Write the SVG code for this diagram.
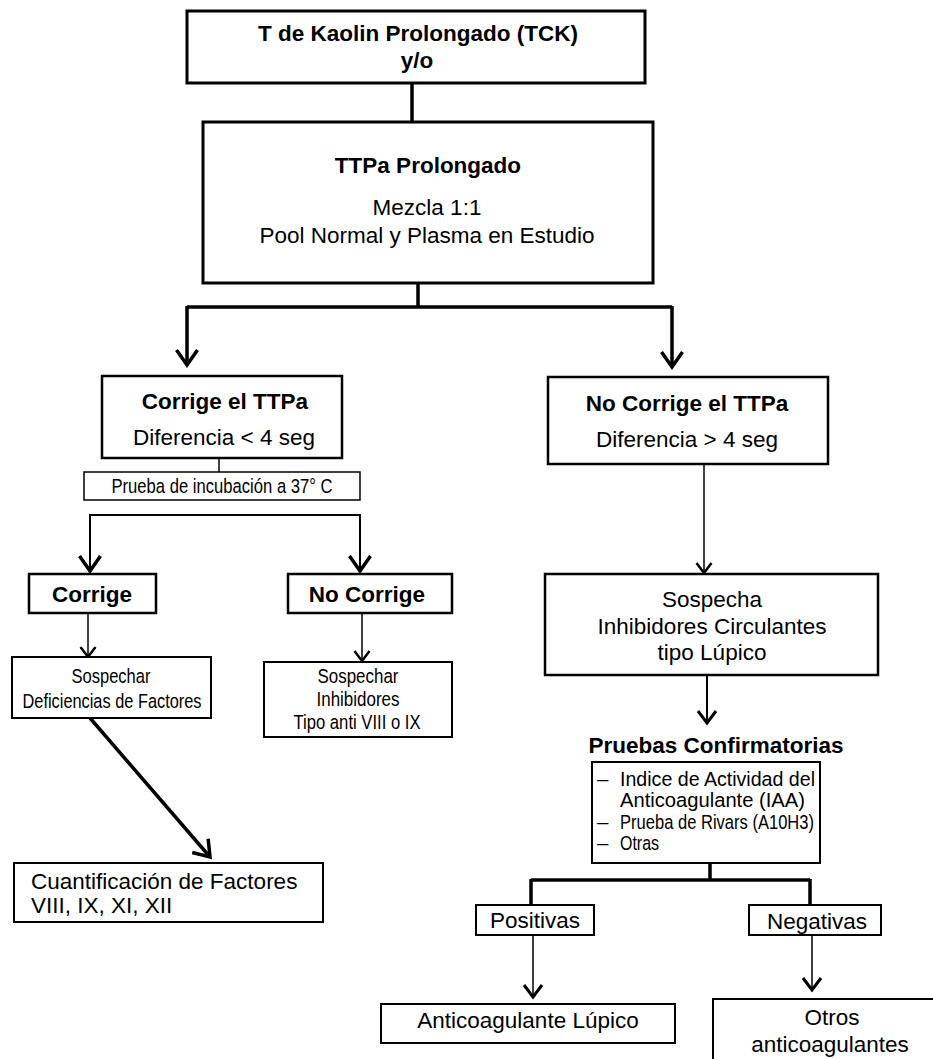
<svg xmlns="http://www.w3.org/2000/svg" width="933" height="1059" viewBox="0 0 933 1059">
<style>
  .box { fill: #fff; stroke: #000; }
  .t { font-family: "Liberation Sans", Arial, Helvetica, sans-serif; font-size: 22.5px; fill: #000; text-anchor: middle; }
  .b { font-weight: bold; }
  .c { font-size: 20.5px; }
  .l { font-size: 20.5px; text-anchor: start; }
  .s { text-anchor: start; }
  .ln { fill: none; stroke: #000; }
</style>
<defs>
  <marker id="aBig" markerUnits="userSpaceOnUse" viewBox="-3 -3 21 27" markerWidth="21" markerHeight="27" refX="15" refY="10.5" orient="auto" overflow="visible">
    <path d="M0,0 L15,10.5 L0,21" fill="none" stroke="#000" stroke-width="3.5"/>
  </marker>
  <marker id="aMid" markerUnits="userSpaceOnUse" viewBox="-3 -3 19 24" markerWidth="19" markerHeight="24" refX="12" refY="9" orient="auto" overflow="visible">
    <path d="M0,0 L12,9 L0,18" fill="none" stroke="#000" stroke-width="3"/>
  </marker>
  <marker id="aSmall" markerUnits="userSpaceOnUse" viewBox="-3 -3 16 21" markerWidth="16" markerHeight="21" refX="10" refY="7.5" orient="auto" overflow="visible">
    <path d="M0,0 L10,7.5 L0,15" fill="none" stroke="#000" stroke-width="2.5"/>
  </marker>
</defs>
<rect width="933" height="1059" fill="#fff"/>

<g id="connectors">
  <line class="ln" x1="412" y1="83" x2="412" y2="122" stroke-width="3.5"/>
  <polyline class="ln" points="418,283 418,307" stroke-width="3.5"/>
  <line class="ln" x1="187" y1="307" x2="672" y2="307" stroke-width="3.5"/>
  <line class="ln" x1="187" y1="306" x2="187" y2="365" stroke-width="3.5" marker-end="url(#aBig)"/>
  <line class="ln" x1="672" y1="306" x2="672" y2="367" stroke-width="3.5" marker-end="url(#aBig)"/>
  <line class="ln" x1="219" y1="458" x2="219" y2="472" stroke-width="1.5"/>
  <line class="ln" x1="90" y1="515" x2="360" y2="515" stroke-width="2"/>
  <line class="ln" x1="90" y1="514" x2="90" y2="571" stroke-width="2" marker-end="url(#aBig)"/>
  <line class="ln" x1="360" y1="514" x2="360" y2="571" stroke-width="2" marker-end="url(#aBig)"/>
  <line class="ln" x1="88" y1="613" x2="88" y2="657" stroke-width="1.5" marker-end="url(#aSmall)"/>
  <line class="ln" x1="362" y1="613" x2="362" y2="661" stroke-width="1.5" marker-end="url(#aSmall)"/>
  <line class="ln" x1="90" y1="718" x2="210" y2="857" stroke-width="3.5" marker-end="url(#aBig)"/>
  <line class="ln" x1="704" y1="464" x2="704" y2="573" stroke-width="1.5" marker-end="url(#aSmall)"/>
  <line class="ln" x1="707" y1="675" x2="707" y2="723" stroke-width="2" marker-end="url(#aMid)"/>
  <line class="ln" x1="710" y1="863" x2="710" y2="880" stroke-width="3.5"/>
  <line class="ln" x1="531" y1="880" x2="810" y2="880" stroke-width="3.5"/>
  <line class="ln" x1="531" y1="879" x2="531" y2="905" stroke-width="3.5"/>
  <line class="ln" x1="810" y1="879" x2="810" y2="905" stroke-width="3.5"/>
  <line class="ln" x1="533" y1="935" x2="533" y2="997" stroke-width="1.5" marker-end="url(#aMid)"/>
  <line class="ln" x1="812" y1="935" x2="812" y2="990" stroke-width="1.5" marker-end="url(#aMid)"/>
</g>

<g id="n-tck">
  <rect class="box" x="187" y="11" width="458" height="72" stroke-width="3"/>
  <text class="t b" x="418" y="41">T de Kaolin Prolongado (TCK)</text>
  <text class="t b" x="417" y="68">y/o</text>
</g>

<g id="n-ttpa">
  <rect class="box" x="203" y="122" width="450" height="161" stroke-width="3"/>
  <text class="t b" x="428" y="173">TTPa Prolongado</text>
  <text class="t" x="427" y="215">Mezcla 1:1</text>
  <text class="t" x="427" y="243">Pool Normal y Plasma en Estudio</text>
</g>

<g id="n-corrige-ttpa">
  <rect class="box" x="102" y="376" width="240" height="82" stroke-width="2.5"/>
  <text class="t b" x="225" y="409">Corrige el TTPa</text>
  <text class="t" x="224" y="445">Diferencia &lt; 4 seg</text>
</g>

<g id="n-nocorrige-ttpa">
  <rect class="box" x="548" y="377" width="280" height="87" stroke-width="2.5"/>
  <text class="t b" x="687" y="411">No Corrige el TTPa</text>
  <text class="t" x="687" y="447">Diferencia &gt; 4 seg</text>
</g>

<g id="n-incubacion">
  <rect class="box" x="84" y="472" width="276" height="28" stroke-width="1.5"/>
  <text class="t c" x="222" y="493" textLength="221" lengthAdjust="spacingAndGlyphs">Prueba de incubación a 37° C</text>
</g>

<g id="n-corrige">
  <rect class="box" x="29" y="574" width="127" height="39" stroke-width="2.5"/>
  <text class="t b" x="92" y="602">Corrige</text>
</g>

<g id="n-nocorrige">
  <rect class="box" x="288" y="574" width="164" height="39" stroke-width="2.5"/>
  <text class="t b" x="367" y="602">No Corrige</text>
</g>

<g id="n-deficiencias">
  <rect class="box" x="12" y="657" width="199" height="61" stroke-width="2"/>
  <text class="t c" x="111" y="683" textLength="79" lengthAdjust="spacingAndGlyphs">Sospechar</text>
  <text class="t c" x="112" y="708" textLength="179" lengthAdjust="spacingAndGlyphs">Deficiencias de Factores</text>
</g>

<g id="n-inhibidores">
  <rect class="box" x="264" y="662" width="188" height="75" stroke-width="2"/>
  <text class="t c" x="358" y="683" textLength="81" lengthAdjust="spacingAndGlyphs">Sospechar</text>
  <text class="t c" x="358" y="706" textLength="83" lengthAdjust="spacingAndGlyphs">Inhibidores</text>
  <text class="t c" x="357" y="729" textLength="127" lengthAdjust="spacingAndGlyphs">Tipo anti VIII o IX</text>
</g>

<g id="n-cuantificacion">
  <rect class="box" x="14" y="863" width="309" height="59" stroke-width="2"/>
  <text class="t s" x="31" y="889">Cuantificación de Factores</text>
  <text class="t s" x="31" y="913">VIII, IX, XI, XII</text>
</g>

<g id="n-sospecha">
  <rect class="box" x="545" y="574" width="333" height="101" stroke-width="2.5"/>
  <text class="t" x="712" y="607">Sospecha</text>
  <text class="t" x="712" y="634">Inhibidores Circulantes</text>
  <text class="t" x="712" y="660">tipo Lúpico</text>
</g>

<g id="n-pruebas">
  <text class="t b" x="716" y="753">Pruebas Confirmatorias</text>
  <rect class="box" x="592" y="762" width="228" height="101" stroke-width="2"/>
  <text class="t l" x="597" y="786">–</text>
  <text class="t l" x="620" y="786" textLength="195" lengthAdjust="spacingAndGlyphs">Indice de Actividad del</text>
  <text class="t l" x="620" y="807" textLength="185" lengthAdjust="spacingAndGlyphs">Anticoagulante (IAA)</text>
  <text class="t l" x="597" y="829">–</text>
  <text class="t l" x="620" y="829" textLength="194" lengthAdjust="spacingAndGlyphs">Prueba de Rivars (A10H3)</text>
  <text class="t l" x="597" y="850">–</text>
  <text class="t l" x="620" y="850" textLength="39" lengthAdjust="spacingAndGlyphs">Otras</text>
</g>

<g id="n-positivas">
  <rect class="box" x="476" y="905" width="118" height="30" stroke-width="2"/>
  <text class="t" x="535" y="928">Positivas</text>
</g>

<g id="n-negativas">
  <rect class="box" x="749" y="905" width="132" height="30" stroke-width="2"/>
  <text class="t" x="817" y="929">Negativas</text>
</g>

<g id="n-lupico">
  <rect class="box" x="381" y="1004" width="294" height="39" stroke-width="2"/>
  <text class="t" x="528" y="1028">Anticoagulante Lúpico</text>
</g>

<g id="n-otros">
  <rect class="box" x="713" y="999" width="260" height="90" stroke-width="2"/>
  <text class="t" x="832" y="1025">Otros</text>
  <text class="t" x="830" y="1052">anticoagulantes</text>
</g>
</svg>
